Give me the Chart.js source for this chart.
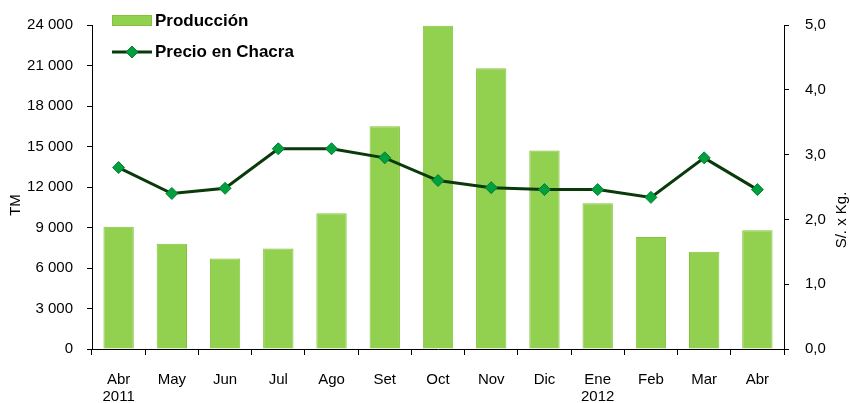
<!DOCTYPE html>
<html>
<head>
<meta charset="utf-8">
<script src="https://cdn.jsdelivr.net/npm/chart.js@4"></script>
<style>
  body { margin: 0; background: #fff; }
  #wrap { width: 850px; height: 403px; }
</style>
</head>
<body>
<div id="wrap"><canvas id="chart" width="850" height="403"></canvas></div>
<script>
// Data
const months = [['Abr', '2011'], 'May', 'Jun', 'Jul', 'Ago', 'Set', 'Oct', 'Nov', 'Dic', ['Ene', '2012'], 'Feb', 'Mar', 'Abr'];
const produccion = [9050, 7800, 6700, 7450, 10050, 16500, 23950, 20800, 14700, 10800, 8300, 7200, 8800];
const precioChacra = [2.80, 2.40, 2.48, 3.09, 3.09, 2.95, 2.60, 2.49, 2.46, 2.46, 2.34, 2.95, 2.46];

const FONT = "'Liberation Sans', Arial, sans-serif";
Chart.defaults.font.family = FONT;
Chart.defaults.color = '#000';

const BAR_FILL = '#92D050';
const BAR_EDGE = '#84C23A';
const LINE_COLOR = '#0A3A0A';
const MARK_FILL = '#00A040';
const MARK_EDGE = '#00802F';

const fmtThousands = v => String(v).replace(/\B(?=(\d{3})+(?!\d))/g, ' ');

// legend + rotated axis titles drawn by hand
const extras = {
    id: 'extras',
    afterDraw(chart) {
        const ctx = chart.ctx;
        ctx.save();

        // legend
        ctx.font = 'bold 17px ' + FONT;
        ctx.textBaseline = 'middle';
        ctx.fillStyle = BAR_FILL;
        ctx.fillRect(112, 15, 40, 11);
        ctx.strokeStyle = BAR_EDGE;
        ctx.strokeRect(112.5, 15.5, 39, 10);
        ctx.fillStyle = '#000';
        ctx.fillText('Producción', 155, 21);

        ctx.strokeStyle = LINE_COLOR;
        ctx.lineWidth = 3;
        ctx.beginPath();
        ctx.moveTo(112, 52);
        ctx.lineTo(152, 52);
        ctx.stroke();
        ctx.fillStyle = MARK_FILL;
        ctx.strokeStyle = MARK_EDGE;
        ctx.lineWidth = 1;
        ctx.beginPath();
        ctx.moveTo(132, 46);
        ctx.lineTo(138, 52);
        ctx.lineTo(132, 58);
        ctx.lineTo(126, 52);
        ctx.closePath();
        ctx.fill();
        ctx.stroke();
        ctx.fillStyle = '#000';
        ctx.fillText('Precio en Chacra', 155, 52);

        // axis titles
        ctx.font = '15px ' + FONT;
        ctx.textAlign = 'center';
        ctx.translate(16, 205);
        ctx.rotate(-Math.PI / 2);
        ctx.fillText('TM', 0, 0);
        ctx.rotate(Math.PI / 2);
        ctx.translate(-16, -205);
        ctx.translate(842, 220);
        ctx.rotate(-Math.PI / 2);
        ctx.fillText('S/. x Kg.', 0, 0);
        ctx.restore();
    }
};

new Chart(document.getElementById('chart'), {
    type: 'bar',
    data: {
        labels: months,
        datasets: [
            {
                type: 'line',
                label: 'Precio en Chacra',
                data: precioChacra,
                yAxisID: 'y1',
                order: 0,
                borderColor: LINE_COLOR,
                borderWidth: 3,
                tension: 0,
                pointStyle: 'rectRot',
                pointRadius: 6,
                pointBackgroundColor: MARK_FILL,
                pointBorderColor: MARK_EDGE,
                pointBorderWidth: 1
            },
            {
                label: 'Producción',
                data: produccion,
                yAxisID: 'y',
                order: 1,
                backgroundColor: BAR_FILL,
                borderColor: BAR_EDGE,
                borderWidth: 1,
                categoryPercentage: 1,
                barPercentage: 0.57
            }
        ]
    },
    options: {
        responsive: false,
        animation: false,
        layout: { padding: { top: 24, left: 0, right: 0, bottom: 0 } },
        plugins: {
            legend: { display: false },
            tooltip: { enabled: false }
        },
        scales: {
            x: {
                afterFit: s => { s.height = 54; },
                border: { display: true, color: '#000', width: 1 },
                grid: { drawOnChartArea: false, tickLength: 6, color: '#000', offset: true },
                ticks: {
                    font: { size: 15, lineHeight: 1.1 },
                    padding: 17,
                    maxRotation: 0,
                    autoSkip: false
                }
            },
            y: {
                position: 'left',
                min: 0,
                max: 24000,
                afterFit: s => { s.width = 92; },
                border: { display: true, color: '#000', width: 1 },
                grid: { drawOnChartArea: false, tickLength: 5, color: '#000' },
                ticks: {
                    stepSize: 3000,
                    font: { size: 15 },
                    padding: 14,
                    callback: v => fmtThousands(v)
                }
            },
            y1: {
                position: 'right',
                min: 0,
                max: 5,
                afterFit: s => { s.width = 66; },
                border: { display: true, color: '#000', width: 1 },
                grid: { drawOnChartArea: false, tickLength: 5, color: '#000' },
                ticks: {
                    stepSize: 1,
                    font: { size: 15 },
                    padding: 16,
                    callback: v => v.toFixed(1).replace('.', ',')
                }
            }
        }
    },
    plugins: [extras]
});
</script>
</body>
</html>
